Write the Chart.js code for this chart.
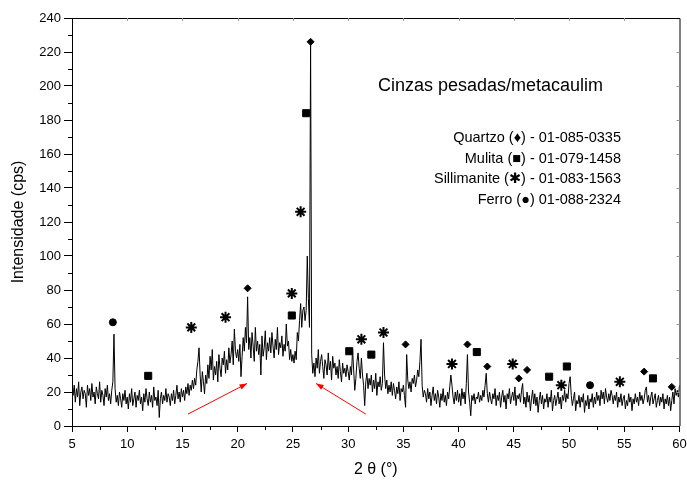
<!DOCTYPE html>
<html>
<head>
<meta charset="utf-8">
<script src="https://cdn.jsdelivr.net/npm/chart.js@4.4.1/dist/chart.umd.min.js"></script>
<style>
  html, body { margin: 0; padding: 0; background: #fff; }
  canvas { display: block; }
</style>
</head>
<body>
<canvas id="xrd" width="687" height="483"></canvas>
<script>
// 2θ from 5 to 60 in steps of 0.1 deg, one row per degree
var TWO_THETA_START = 5;
var TWO_THETA_STEP = 0.1;
var INTENSITY = [
  25,18,24,14,22,17,26,12,20,23,   // 5
  16,21,19,11,24,18,22,15,25,17,   // 6
  20,13,23,19,16,26,14,21,18,12,   // 7
  22,17,24,15,19,13,21,26,54,22,   // 8
  14,18,12,20,16,11,19,15,21,13,   // 9
  17,10,19,14,22,12,16,20,11,18,   // 10
  15,21,13,17,9,19,14,22,16,12,    // 11
  20,14,18,11,23,15,17,12,21,5,    // 12
  16,20,13,18,15,22,14,19,17,12,   // 13
  19,15,21,13,18,24,16,20,14,22,   // 14
  17,21,15,23,19,25,18,24,21,27,   // 15
  22,28,24,33,38,46,30,20,32,26,   // 16
  19,30,25,36,28,41,33,45,27,35,   // 17
  30,38,26,42,34,29,40,36,44,31,   // 18
  39,33,46,37,42,50,36,57,44,40,   // 19
  45,38,48,29,41,52,44,58,49,76,   // 20
  45,52,40,55,47,38,58,44,50,42,   // 21
  48,30,53,41,46,56,39,49,44,52,   // 22
  43,55,47,40,51,45,58,42,49,46,   // 23
  53,41,48,44,60,47,50,39,45,38,   // 24
  42,37,44,39,55,50,62,72,58,68,   // 25
  70,62,68,100,75,58,226,42,31,37, // 26
  29,40,34,45,31,38,42,35,28,39,   // 27
  36,30,43,33,38,27,41,34,37,30,   // 28
  35,28,39,32,26,37,31,34,29,36,   // 29
  32,27,35,30,45,33,21,28,38,43,   // 30
  34,28,40,30,24,12,26,31,22,28,   // 31
  24,30,20,27,22,31,18,26,23,29,   // 32
  21,25,49,30,22,27,19,24,20,26,   // 33
  18,25,21,16,23,19,26,15,22,20,   // 34
  24,18,11,42,27,22,26,20,28,25,   // 35
  30,23,27,33,29,38,51,24,17,21,   // 36
  19,14,22,16,20,12,18,23,15,19,   // 37
  13,21,17,11,19,15,22,14,18,12,   // 38
  20,16,23,30,24,17,13,20,15,21,   // 39
  14,19,12,22,16,20,13,25,42,20,   // 40
  14,6,18,15,19,13,17,16,20,14,    // 41
  18,15,21,17,24,31,19,14,20,16,   // 42
  13,19,16,22,12,18,15,20,11,17,   // 43
  21,14,18,10,19,16,22,13,17,20,   // 44
  15,23,12,18,16,19,14,21,25,13,   // 45
  17,11,20,14,18,9,16,21,13,19,    // 46
  12,17,8,15,20,13,18,10,16,14,    // 47
  19,11,17,14,21,9,15,18,12,16,    // 48
  20,13,17,10,18,15,21,14,19,16,   // 49
  25,29,18,12,16,20,9,15,13,18,    // 50
  11,17,14,19,8,15,12,18,10,16,    // 51
  14,19,11,17,13,20,15,18,12,21,   // 52
  16,20,13,22,17,14,19,15,21,18,   // 53
  13,18,15,20,11,17,14,19,12,16,   // 54
  18,10,15,12,19,14,17,9,16,13,    // 55
  19,14,17,12,20,15,18,13,16,21,   // 56
  23,14,18,12,17,20,13,16,19,11,   // 57
  15,18,12,17,14,19,10,16,13,18,   // 58
  12,17,9,15,20,13,22,18,21,17,    // 59
  24                               // 60
];

// phase markers (2θ, height of symbol)
var QUARTZO_X = [20.9, 26.6, 35.2, 40.8, 42.6, 45.45, 46.2, 56.8, 59.3];
var QUARTZO_Y = [81, 226, 48, 48, 35, 28, 33, 32, 23];
var MULITA_X = [11.9, 24.9, 26.2, 30.1, 32.1, 41.65, 48.2, 49.8, 57.6];
var MULITA_Y = [29.5, 65, 184, 44, 42, 43.5, 29, 35, 28];
var SILLIMANITE_X = [15.8, 18.9, 24.9, 25.7, 31.2, 33.2, 39.4, 44.9, 49.3, 54.6];
var SILLIMANITE_Y = [58, 64, 78, 126, 51, 55, 36.5, 36.5, 24, 26];
var FERRO_X = [8.7, 51.9];
var FERRO_Y = [61, 24];

var X_MIN = 5, X_MAX = 60, X_STEP = 5;
var Y_MIN = 0, Y_MAX = 240, Y_STEP = 20;

var LEGEND_LINES = [
  'Quartzo (\u2666) - 01-085-0335',
  'Mulita (\u25A0) - 01-079-1458',
  'Sillimanite (\u2731) - 01-083-1563',
  'Ferro (\u25CF) 01-088-2324'
];

// red arrows pointing at the amorphous hump: [x0, y0, x1, y1]
var ARROWS = [[15.5, 7, 20.85, 25], [31.6, 7, 27.1, 25]];

var FONT = "'Liberation Sans', Arial, 'DejaVu Sans', sans-serif";

function toPoints(xs, ys) {
  return xs.map(function(x, i) { return { x: x, y: ys[i] }; });
}

var pattern = INTENSITY.map(function(v, i) {
  return { x: +(TWO_THETA_START + i * TWO_THETA_STEP).toFixed(2), y: v };
});

function markerSet(label, xs, ys, style, radius, bw) {
  return {
    type: 'scatter',
    label: label,
    data: toPoints(xs, ys),
    pointStyle: style,
    pointRadius: radius,
    pointHoverRadius: radius,
    backgroundColor: '#000',
    borderColor: '#000',
    borderWidth: bw,
    showLine: false
  };
}

var decor = {
  id: 'decor',
  afterDraw: function(chart) {
    var ctx = chart.ctx, a = chart.chartArea;
    var xs = chart.scales.x, ys = chart.scales.y;
    var v, px, py;
    ctx.save();

    // frame (top + right)
    ctx.strokeStyle = '#000';
    ctx.lineWidth = 1;
    ctx.beginPath();
    ctx.moveTo(a.left, a.top + 0.5); ctx.lineTo(a.right + 0.5, a.top + 0.5);
    ctx.lineTo(a.right + 0.5, a.bottom);
    ctx.stroke();

    // minor ticks outside, faint inward ticks on top/right
    ctx.beginPath();
    for (v = X_MIN + X_STEP / 2; v < X_MAX; v += X_STEP) {
      px = Math.round(xs.getPixelForValue(v)) + 0.5;
      ctx.moveTo(px, a.bottom); ctx.lineTo(px, a.bottom + 4);
    }
    for (v = Y_MIN + Y_STEP / 2; v < Y_MAX; v += Y_STEP) {
      py = Math.round(ys.getPixelForValue(v)) + 0.5;
      ctx.moveTo(a.left, py); ctx.lineTo(a.left - 4, py);
    }
    ctx.stroke();
    ctx.strokeStyle = '#999';
    ctx.beginPath();
    for (v = X_MIN + X_STEP; v < X_MAX; v += X_STEP) {
      px = Math.round(xs.getPixelForValue(v)) + 0.5;
      ctx.moveTo(px, a.top); ctx.lineTo(px, a.top + 3);
    }
    for (v = Y_MIN + Y_STEP; v < Y_MAX; v += Y_STEP) {
      py = Math.round(ys.getPixelForValue(v)) + 0.5;
      ctx.moveTo(a.right, py); ctx.lineTo(a.right - 3, py);
    }
    ctx.stroke();

    // arrows
    ctx.strokeStyle = '#ff0000';
    ctx.fillStyle = '#ff0000';
    ctx.lineWidth = 1;
    ARROWS.forEach(function(ar) {
      var x0 = xs.getPixelForValue(ar[0]), y0 = ys.getPixelForValue(ar[1]);
      var x1 = xs.getPixelForValue(ar[2]), y1 = ys.getPixelForValue(ar[3]);
      var ang = Math.atan2(y1 - y0, x1 - x0);
      ctx.beginPath(); ctx.moveTo(x0, y0); ctx.lineTo(x1, y1); ctx.stroke();
      ctx.beginPath();
      ctx.moveTo(x1, y1);
      ctx.lineTo(x1 - 8 * Math.cos(ang - 0.35), y1 - 8 * Math.sin(ang - 0.35));
      ctx.lineTo(x1 - 8 * Math.cos(ang + 0.35), y1 - 8 * Math.sin(ang + 0.35));
      ctx.closePath(); ctx.fill();
    });

    // texts
    ctx.fillStyle = '#000';
    ctx.textBaseline = 'middle';
    ctx.textAlign = 'left';
    ctx.font = '18px ' + FONT;
    ctx.fillText('Cinzas pesadas/metacaulim', 378, 86);

    ctx.font = '14.5px ' + FONT;
    ctx.textAlign = 'right';
    LEGEND_LINES.forEach(function(t, i) {
      ctx.fillText(t, 621, 138 + i * 20.7);
    });

    // axis titles
    ctx.font = '16px ' + FONT;
    ctx.textAlign = 'center';
    ctx.fillText('2 \u03B8 (\u00B0)', (a.left + a.right) / 2, 470);
    ctx.translate(19, (a.top + a.bottom) / 2);
    ctx.rotate(-Math.PI / 2);
    ctx.fillText('Intensidade (cps)', 0, 0);
    ctx.restore();
  }
};

new Chart(document.getElementById('xrd').getContext('2d'), {
  type: 'line',
  data: {
    datasets: [
      {
        label: 'Cinzas pesadas/metacaulim',
        data: pattern,
        borderColor: '#000',
        borderWidth: 1,
        pointRadius: 0,
        tension: 0,
        fill: false
      },
      markerSet('Quartzo', QUARTZO_X, QUARTZO_Y, 'rectRot', 3.5, 1),
      markerSet('Mulita', MULITA_X, MULITA_Y, 'rect', 5, 1),
      markerSet('Sillimanite', SILLIMANITE_X, SILLIMANITE_Y, 'star', 5.5, 2),
      markerSet('Ferro', FERRO_X, FERRO_Y, 'circle', 3.5, 1)
    ]
  },
  options: {
    responsive: false,
    animation: false,
    layout: { padding: { top: 18, right: 7, left: 0, bottom: 0 } },
    plugins: { legend: { display: false }, tooltip: { enabled: false } },
    scales: {
      x: {
        type: 'linear',
        min: X_MIN, max: X_MAX,
        afterFit: function(s) { s.height = 57; s.paddingLeft = 0; s.paddingRight = 0; },
        border: { display: true, color: '#000', width: 1 },
        grid: { drawOnChartArea: false, color: '#000', tickLength: 6 },
        ticks: { stepSize: X_STEP, color: '#000', padding: 5, maxRotation: 0,
                 font: { family: FONT, size: 13 } }
      },
      y: {
        min: Y_MIN, max: Y_MAX,
        afterFit: function(s) { s.width = 72; s.paddingTop = 0; s.paddingBottom = 0; },
        border: { display: true, color: '#000', width: 1 },
        grid: { drawOnChartArea: false, color: '#000', tickLength: 8 },
        ticks: { stepSize: Y_STEP, color: '#000', padding: 3,
                 font: { family: FONT, size: 13 } }
      }
    }
  },
  plugins: [decor]
});
</script>
</body>
</html>
